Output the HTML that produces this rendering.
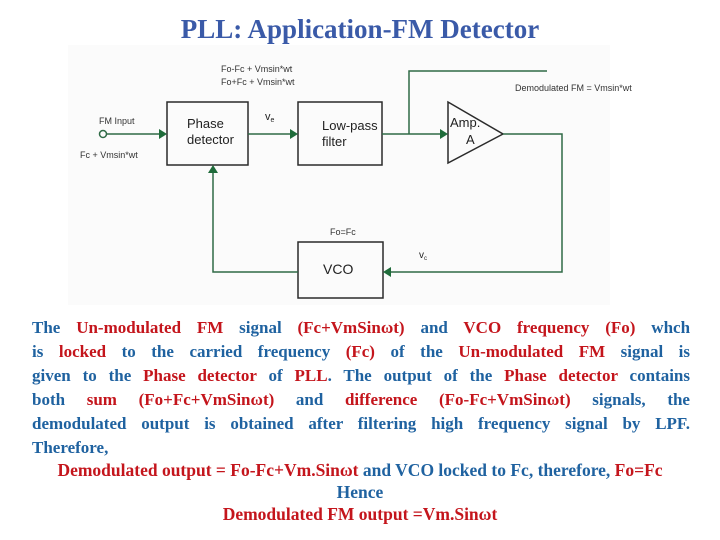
<!DOCTYPE html>
<html><head><meta charset="utf-8"><style>
body{margin:0;width:720px;height:540px;background:#fff;overflow:hidden;position:relative;font-family:"Liberation Serif",serif}
.t{position:absolute;left:0;width:720px;top:14px;text-align:center;font-size:27px;font-weight:bold;color:#3a5aa8}
.p{position:absolute;left:32px;width:658px;top:316px;font-size:17px;line-height:24px;font-weight:bold;color:#1f62a0}
.p div{text-align:justify;text-align-last:justify;white-space:nowrap}
.p div.l{text-align-last:left}
.r{color:#c4151c}
.c{position:absolute;left:0;width:720px;text-align:center;font-size:17.5px;font-weight:bold;color:#1f62a0}
svg{position:absolute;left:0;top:0}
</style></head><body>
<div class="t">PLL: Application-FM Detector</div>
<svg width="720" height="540" font-family="Liberation Sans, sans-serif">
<rect x="68" y="45" width="542" height="260" fill="#fbfbfb"/>
<g fill="none" stroke="#2b2b2b" stroke-width="1.5">
<rect x="167" y="102" width="81" height="63"/>
<rect x="298" y="102" width="84" height="63"/>
<rect x="298" y="242" width="85" height="56"/>
<polygon points="448,102 503,134 448,163"/>
</g>
<g fill="none" stroke="#2f6a46" stroke-width="1.5">
<circle cx="103" cy="134" r="3.5"/>
<line x1="107" y1="134" x2="160" y2="134"/>
<line x1="248" y1="134" x2="291" y2="134"/>
<line x1="382" y1="134" x2="441" y2="134"/>
<polyline points="409,134 409,71 547,71"/>
<polyline points="503,134 562,134 562,272 390,272"/>
<polyline points="298,272 213,272 213,172"/>
</g>
<g fill="#1f6b3a">
<polygon points="167,134 159,129 159,139"/>
<polygon points="298,134 290,129 290,139"/>
<polygon points="448,134 440,129 440,139"/>
<polygon points="383,272 391,267 391,277"/>
<polygon points="213,165 208,173 218,173"/>
</g>
<g fill="#333" font-size="9">
<text x="221" y="72">Fo-Fc + Vmsin*wt</text>
<text x="221" y="85">Fo+Fc + Vmsin*wt</text>
<text x="515" y="91">Demodulated FM = Vmsin*wt</text>
<text x="99" y="124">FM Input</text>
<text x="80" y="158">Fc + Vmsin*wt</text>
<text x="330" y="235">Fo=Fc</text>
</g>
<g fill="#222" font-size="13">
<text x="187" y="128">Phase</text><text x="187" y="144">detector</text>
<text x="322" y="130">Low-pass</text><text x="322" y="146">filter</text>
<text x="450" y="127">Amp.</text><text x="466" y="144">A</text>
<text x="323" y="274" font-size="14">VCO</text>
<text x="265" y="120" font-size="11">v<tspan font-size="7" dy="2">e</tspan></text>
<text x="419" y="258" font-size="10">v<tspan font-size="6" dy="2">c</tspan></text>
</g>
</svg>
<div class="p">
<div>The <span class="r">Un-modulated FM</span> signal <span class="r">(Fc+VmSinωt)</span> and <span class="r">VCO frequency (Fo)</span> whch</div>
<div>is <span class="r">locked</span> to the carried frequency <span class="r">(Fc)</span> of the <span class="r">Un-modulated FM</span> signal is</div>
<div>given to the <span class="r">Phase detector</span> of <span class="r">PLL</span>. The output of the <span class="r">Phase detector</span> contains</div>
<div>both <span class="r">sum (Fo+Fc+VmSinωt)</span> and <span class="r">difference (Fo-Fc+VmSinωt)</span> signals, the</div>
<div>demodulated output is obtained after filtering high frequency signal by LPF.</div>
<div class="l">Therefore,</div>
</div>
<div class="c" style="top:460px"><span class="r">Demodulated output = Fo-Fc+Vm.Sinωt</span> and VCO locked to Fc, therefore, <span class="r">Fo=Fc</span></div>
<div class="c" style="top:482px">Hence</div>
<div class="c" style="top:504px;color:#c4151c">Demodulated FM output =Vm.Sinωt</div>
</body></html>
